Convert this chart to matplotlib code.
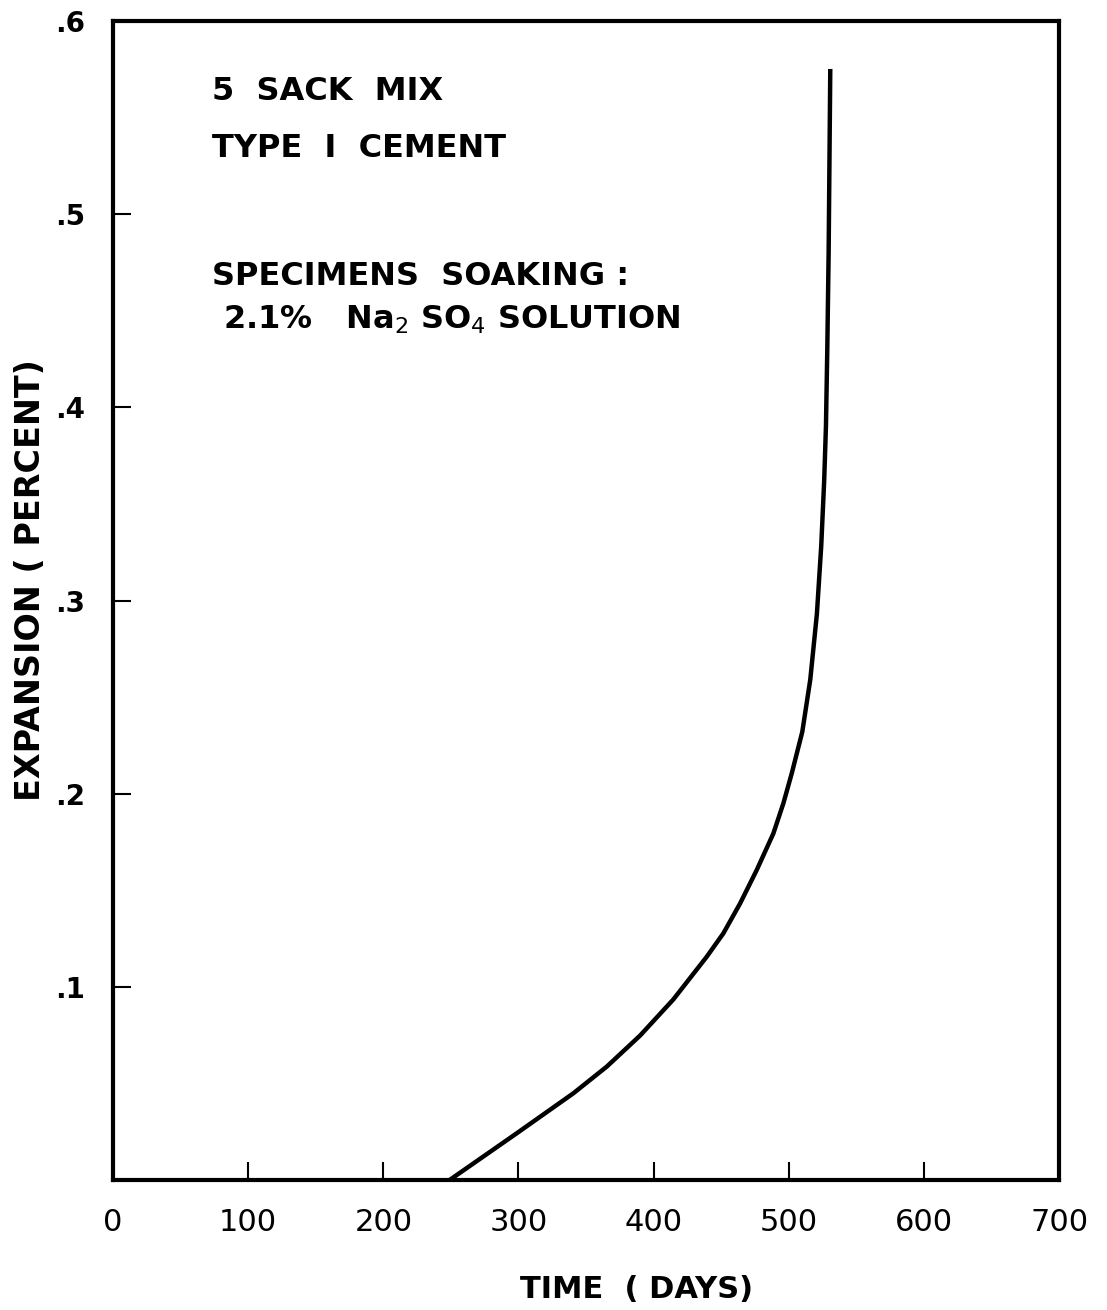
import matplotlib
matplotlib.use("Agg")
import matplotlib.pyplot as plt

# curve (days, percent expansion)
days = [249, 298.7, 340.6, 365.3, 390, 414.6, 439.3, 451.6, 464, 476.3,
        488.6, 496, 502.2, 510, 515.9, 520.8, 524, 526.2, 527.5, 528.5,
        529.5, 530.7]
expansion = [0.0, 0.0242, 0.0449, 0.0587, 0.0748, 0.0935, 0.1156, 0.1277,
             0.1432, 0.1605, 0.1794, 0.195, 0.2105, 0.232, 0.259, 0.293,
             0.328, 0.362, 0.390, 0.430, 0.480, 0.574]

x_ticks = [0, 100, 200, 300, 400, 500, 600, 700]
x_labels = ["0", "100", "200", "300", "400", "500", "600", "700"]
y_ticks = [0.1, 0.2, 0.3, 0.4, 0.5, 0.6]
y_labels = [".1", ".2", ".3", ".4", ".5", ".6"]

notes = ["5  SACK  MIX", "TYPE  I  CEMENT", "SPECIMENS  SOAKING :",
         r" 2.1%   Na$_2$ SO$_4$ SOLUTION"]

plt.rcParams["font.family"] = ["DejaVu Sans"]
plt.rcParams["mathtext.fontset"] = "dejavusans"

fig = plt.figure(figsize=(11.07, 13.10), dpi=100)
ax = fig.add_axes([0.1021, 0.0992, 0.8546, 0.8848])

ax.plot(days, expansion, color="black", lw=3.2, solid_joinstyle="round")

ax.set_xlim(0, 700)
ax.set_ylim(0, 0.6)
ax.set_xticks(x_ticks)
ax.set_xticklabels(x_labels, fontsize=22)
ax.set_yticks(y_ticks)
ax.set_yticklabels(y_labels, fontsize=20, fontweight="bold")
ax.tick_params(direction="in", length=13, width=1.5)
ax.tick_params(axis="x", pad=20)
ax.tick_params(axis="y", pad=20)
for s in ax.spines.values():
    s.set_linewidth(3)

ax.set_xlabel("TIME  ( DAYS)", fontsize=22, fontweight="bold")
ax.xaxis.set_label_coords(0.553, -0.082)
ax.set_ylabel("EXPANSION ( PERCENT)", fontsize=24, fontweight="bold")
ax.yaxis.set_label_coords(-0.07, 0.518)

# annotation block, top-left
kw = dict(transform=ax.transAxes, fontsize=23, fontweight="bold",
          ha="left", va="baseline")
ax.text(0.105, 0.9315, notes[0], **kw)
ax.text(0.105, 0.8824, notes[1], **kw)
ax.text(0.105, 0.772, notes[2], **kw)
ax.text(0.105, 0.735, notes[3], **kw)

fig.savefig("out.png", dpi=100)
